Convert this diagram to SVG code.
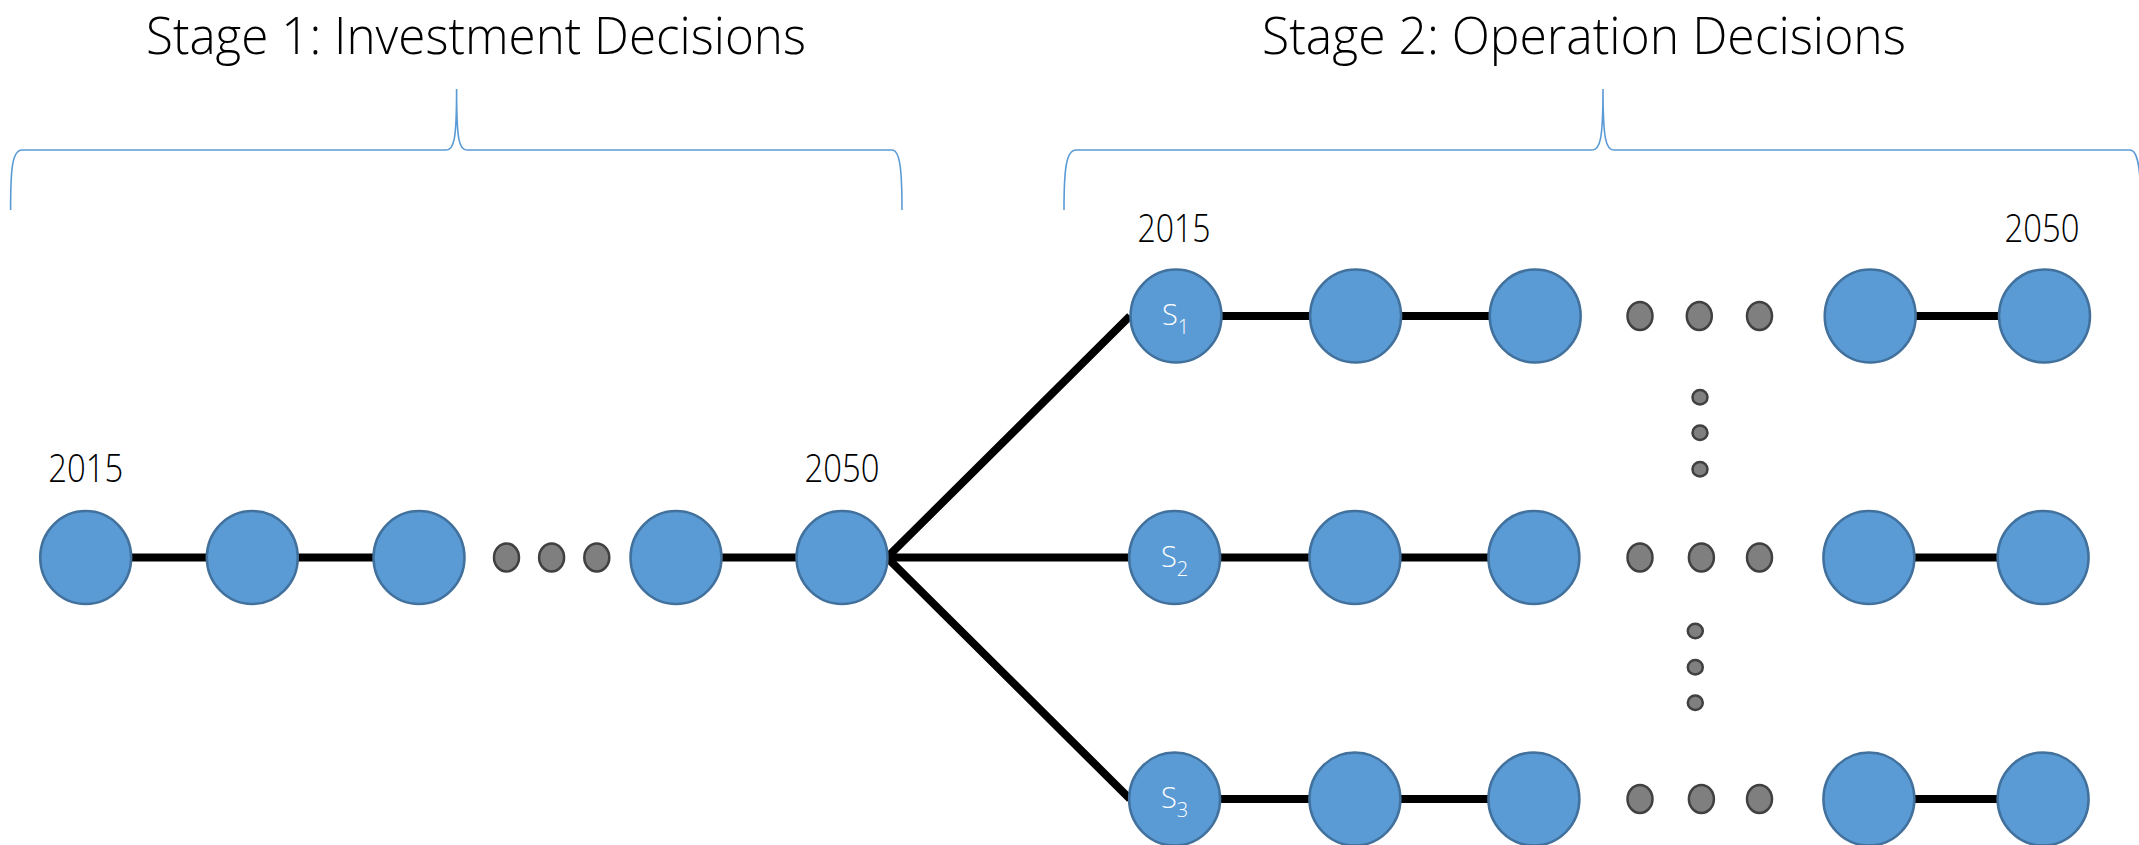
<svg xmlns="http://www.w3.org/2000/svg" width="2139" height="845" viewBox="0 0 2139 845">
<style>
.n{fill:#5B9BD5;stroke:#41719C;stroke-width:2.5}
.d{fill:#7F7F7F;stroke:#404040;stroke-width:2.5}
.e{stroke:#000;stroke-width:8;fill:none}
.b{stroke:#5B9BD5;stroke-width:1.6;fill:none}
.t{font-family:"Open Sans","Noto Sans",sans-serif;font-weight:300;fill:#000}
.s{font-family:"Open Sans","Noto Sans",sans-serif;font-weight:300;fill:#fff}
</style>
<g id="titles">
<text class="t" x="146" y="54" font-size="51" textLength="660" lengthAdjust="spacingAndGlyphs">Stage 1: Investment Decisions</text>
<text class="t" x="1262" y="54" font-size="51" textLength="644" lengthAdjust="spacingAndGlyphs">Stage 2: Operation Decisions</text>
</g>
<g id="braces">
<path class="b" d="M10.6,210 C10.6,170 12,150 22,150 L446,150 C454,150 456.6,140 456.6,89 C456.6,140 459,150 467,150 L892,150 C900,150 902,170 902,210"/>
<path class="b" d="M1064,210 C1064,170 1066,150 1076,150 L1592,150 C1600,150 1603,140 1603,89 C1603,140 1606,150 1614,150 L2130,150 C2138,150 2141,170 2141,210"/>
</g>
<g id="years">
<text class="t" x="85.7" y="482" font-size="38" text-anchor="middle" textLength="75" lengthAdjust="spacingAndGlyphs">2015</text>
<text class="t" x="842" y="482" font-size="38" text-anchor="middle" textLength="75" lengthAdjust="spacingAndGlyphs">2050</text>
<text class="t" x="1174" y="242" font-size="38" text-anchor="middle" textLength="73" lengthAdjust="spacingAndGlyphs">2015</text>
<text class="t" x="2042" y="242" font-size="38" text-anchor="middle" textLength="75" lengthAdjust="spacingAndGlyphs">2050</text>
</g>
<g id="connectors">
<line class="e" x1="85.7" y1="557.5" x2="419" y2="557.5"/>
<line class="e" x1="676" y1="557.5" x2="842" y2="557.5"/>
<polyline class="e" points="1130,316 887,557.5 1130,799" stroke-linejoin="miter"/>
<line class="e" x1="887" y1="557.5" x2="1175" y2="557.5"/>
<line class="e" x1="1176" y1="316" x2="1535" y2="316"/>
<line class="e" x1="1870" y1="316" x2="2044" y2="316"/>
<line class="e" x1="1175" y1="557.5" x2="1534" y2="557.5"/>
<line class="e" x1="1869" y1="557.5" x2="2043" y2="557.5"/>
<line class="e" x1="1175" y1="799" x2="1534" y2="799"/>
<line class="e" x1="1869" y1="799" x2="2043" y2="799"/>
</g>
<g id="stage1">
<ellipse id="s1n1" class="n" cx="85.7" cy="557.5" rx="45.5" ry="46.5"/>
<ellipse id="s1n2" class="n" cx="252.3" cy="557.5" rx="45.5" ry="46.5"/>
<ellipse id="s1n3" class="n" cx="419" cy="557.5" rx="45.5" ry="46.5"/>
<ellipse class="d" cx="506.5" cy="557.5" rx="12.5" ry="14"/>
<ellipse class="d" cx="551.6" cy="557.5" rx="12.5" ry="14"/>
<ellipse class="d" cx="596.8" cy="557.5" rx="12.5" ry="14"/>
<ellipse id="s1n4" class="n" cx="676" cy="557.5" rx="45.5" ry="46.5"/>
<ellipse id="s1n5" class="n" cx="842" cy="557.5" rx="45.5" ry="46.5"/>
</g>
<g id="row1">
<ellipse class="n" cx="1176" cy="316" rx="45.5" ry="46.5"/>
<text class="s" x="1162" y="325" font-size="29">S<tspan font-size="20" dy="9">1</tspan></text>
<ellipse class="n" cx="1355.6" cy="316" rx="45.5" ry="46.5"/>
<ellipse class="n" cx="1535.2" cy="316" rx="45.5" ry="46.5"/>
<ellipse class="d" cx="1640" cy="316" rx="12.5" ry="14"/>
<ellipse class="d" cx="1699.3" cy="316" rx="12.5" ry="14"/>
<ellipse class="d" cx="1759.5" cy="316" rx="12.5" ry="14"/>
<ellipse class="n" cx="1870.2" cy="316" rx="45.5" ry="46.5"/>
<ellipse class="n" cx="2044.5" cy="316" rx="45.5" ry="46.5"/>
</g>
<g id="row2">
<ellipse class="n" cx="1174.6" cy="557.5" rx="45.5" ry="46.5"/>
<text class="s" x="1161" y="566.5" font-size="29">S<tspan font-size="20" dy="9">2</tspan></text>
<ellipse class="n" cx="1354.9" cy="557.5" rx="45.5" ry="46.5"/>
<ellipse class="n" cx="1533.9" cy="557.5" rx="45.5" ry="46.5"/>
<ellipse class="d" cx="1640" cy="557.5" rx="12.5" ry="14"/>
<ellipse class="d" cx="1701.4" cy="557.5" rx="12.5" ry="14"/>
<ellipse class="d" cx="1759.5" cy="557.5" rx="12.5" ry="14"/>
<ellipse class="n" cx="1868.9" cy="557.5" rx="45.5" ry="46.5"/>
<ellipse class="n" cx="2043.1" cy="557.5" rx="45.5" ry="46.5"/>
</g>
<g id="row3">
<ellipse class="n" cx="1174.6" cy="799" rx="45.5" ry="46.5"/>
<text class="s" x="1161" y="808" font-size="29">S<tspan font-size="20" dy="9">3</tspan></text>
<ellipse class="n" cx="1354.9" cy="799" rx="45.5" ry="46.5"/>
<ellipse class="n" cx="1533.9" cy="799" rx="45.5" ry="46.5"/>
<ellipse class="d" cx="1640" cy="799" rx="12.5" ry="14"/>
<ellipse class="d" cx="1701.4" cy="799" rx="12.5" ry="14"/>
<ellipse class="d" cx="1759.5" cy="799" rx="12.5" ry="14"/>
<ellipse class="n" cx="1868.9" cy="799" rx="45.5" ry="46.5"/>
<ellipse class="n" cx="2043.1" cy="799" rx="45.5" ry="46.5"/>
</g>
<g id="vdots">
<ellipse class="d" cx="1700" cy="397.3" rx="7.5" ry="7.2"/>
<ellipse class="d" cx="1700" cy="432.7" rx="7.5" ry="7.2"/>
<ellipse class="d" cx="1700" cy="469.3" rx="7.5" ry="7.2"/>
<ellipse class="d" cx="1695.3" cy="631" rx="7.5" ry="7.2"/>
<ellipse class="d" cx="1695.3" cy="667.3" rx="7.5" ry="7.2"/>
<ellipse class="d" cx="1695.3" cy="702.7" rx="7.5" ry="7.2"/>
</g>
</svg>
